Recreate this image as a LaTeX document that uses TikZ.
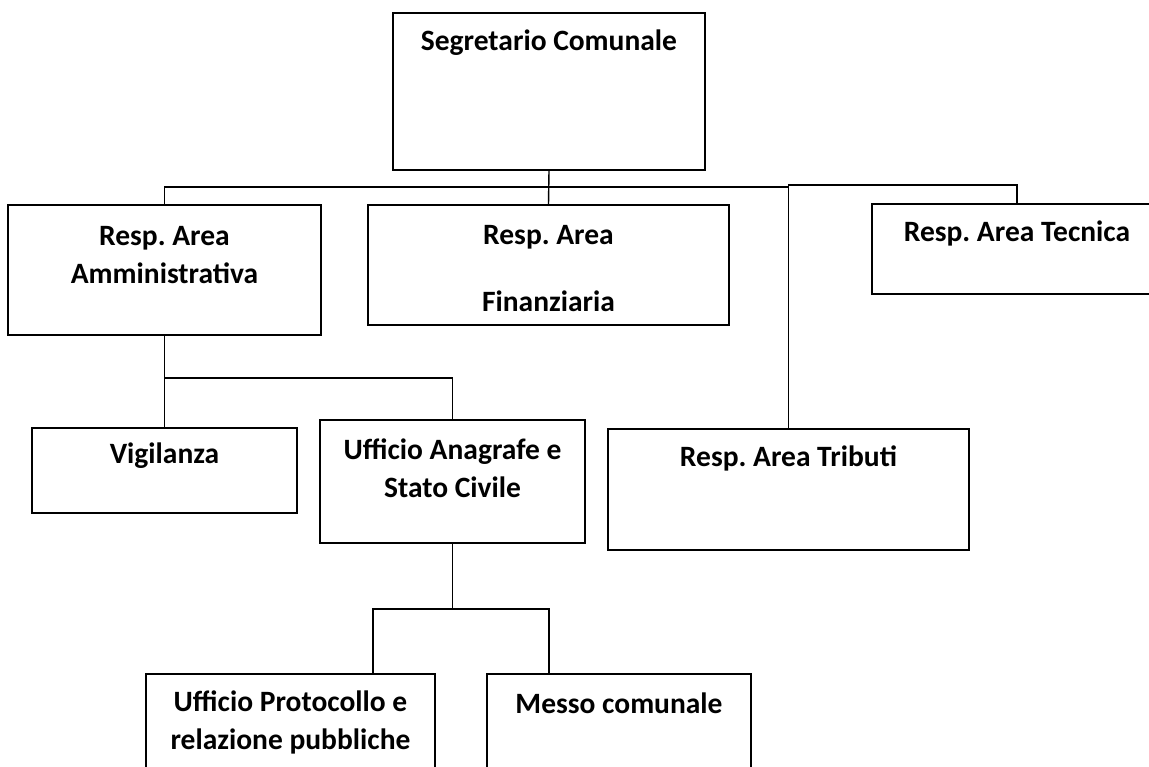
\documentclass[tikz,border=0pt]{standalone}
\usepackage{fontspec}
\setmainfont{Carlito}
\frenchspacing
\begin{document}
\begin{tikzpicture}[x=1pt,y=-1pt,
    box/.style={draw,line width=1.6pt,inner sep=0pt},
    lbl/.style={font=\bfseries\fontsize{29.5}{38}\selectfont,align=center,inner sep=0pt},
    wire/.style={line width=1.4pt}]
    \clip (0,0) rectangle (1149,767);
    \fill[white] (0,0) rectangle (1149,767);

    % boxes
    \node[box,minimum width=312pt,minimum height=157pt] at (549,91.5) (seg) {};
    \node[box,minimum width=313pt,minimum height=130pt] at (164.5,270) (amm) {};
    \node[box,minimum width=361pt,minimum height=120pt] at (548.5,265) (fin) {};
    \node[box,minimum width=290pt,minimum height=90pt] at (1017,249) (tec) {};
    \node[box,minimum width=361pt,minimum height=121pt] at (788.5,489.5) (trib) {};
    \node[box,minimum width=265pt,minimum height=85pt] at (164.5,470.5) (vig) {};
    \node[box,minimum width=265pt,minimum height=123pt] at (452.5,481.5) (ana) {};
    \node[box,minimum width=289pt,minimum height=126pt] at (290.5,737) (prot) {};
    \node[box,minimum width=264pt,minimum height=126pt] at (619,737) (messo) {};

    % labels
    \node[lbl] at (549,43) (tseg) {Segretario Comunale};
    \node[lbl] at (164.5,255.5) (tamm) {Resp. Area\\Amministrativa};
    \node[lbl] at (548.5,268.5) (tfin) {Resp. Area\\[29pt]Finanziaria};
    \node[lbl] at (1017,233) (ttec) {Resp. Area Tecnica};
    \node[lbl] at (788.5,458) (ttrib) {Resp. Area Tributi};
    \node[lbl] at (164.5,456) (tvig) {Vigilanza};
    \node[lbl] at (452.5,468) (tana) {Ufficio Anagrafe e\\Stato Civile};
    \node[lbl] at (290.5,722) (tprot) {Ufficio Protocollo e\\relazione pubbliche};
    \node[lbl] at (619,703) (tmesso) {Messo comunale};

    % connectors
    \coordinate (bus) at (549,187);
    \coordinate (busr) at (788.5,185);
    \coordinate (sub) at (164.5,378);
    \coordinate (sub2) at (452.5,609);

    \draw[wire] (seg.south) -- (fin.north);
    \draw[wire] (amm.north) |- (trib.north |- bus);
    \draw[wire] (trib.north) -- (busr) -| (tec.north);
    \draw[wire] (amm.south) -- (sub) -| (ana.north);
    \draw[wire] (sub) -- (vig.north);
    \draw[wire] (ana.south) -- (sub2);
    \draw[wire] ([xshift=82.5pt]prot.north) |- (sub2) -| ([xshift=-70pt]messo.north);
\end{tikzpicture}
\end{document}
